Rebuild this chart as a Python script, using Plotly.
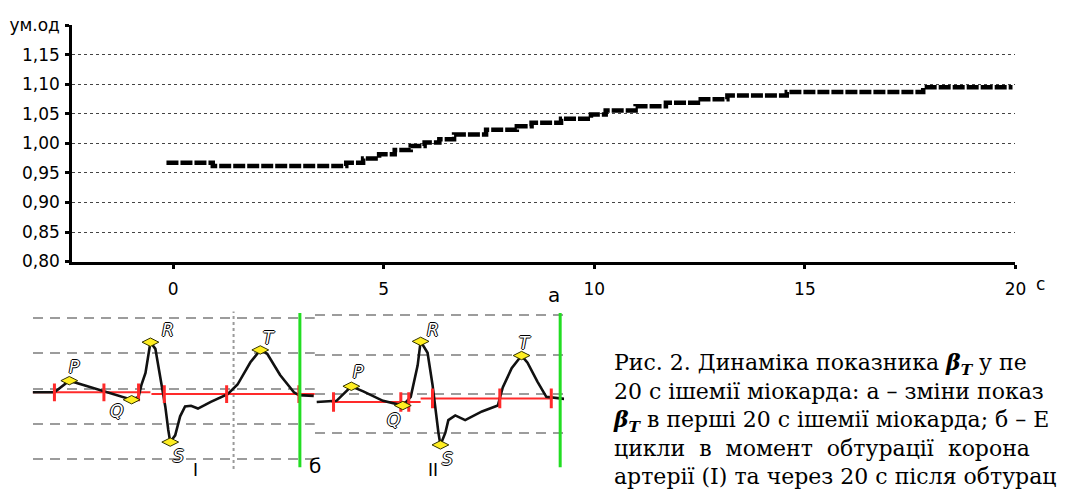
import plotly.graph_objects as go

W, H = 1069, 501

# ---------------- panel "а": dynamics of beta_T ----------------
t_sec = [-0.16, 0.94, 4.11, 4.51, 4.89, 5.26, 5.64, 5.97, 6.32, 6.67, 7.43, 8.16,
         8.51, 9.21, 9.92, 10.27, 10.98, 11.70, 12.46, 13.16, 14.57, 17.81, 19.93]
beta_t = [0.9675, 0.962, 0.9675, 0.9745, 0.9815, 0.989, 0.9955, 1.0015, 1.007, 1.015,
          1.023, 1.029, 1.035, 1.042, 1.049, 1.056, 1.063, 1.069, 1.075, 1.081,
          1.087, 1.095, 1.095]
y_tickvals = [0.80, 0.85, 0.90, 0.95, 1.00, 1.05, 1.10, 1.15, 1.20]
y_ticktext = ["0,80", "0,85", "0,90", "0,95", "1,00", "1,05", "1,10", "1,15", "ум.од"]
x_tickvals = [0, 5, 10, 15, 20]
x_ticktext = ["0", "5", "10", "15", "20"]

# ---------------- panel "б": ECG cycles ----------------
# cycle I (moment of occlusion)
ecg1_t = [0, 22, 37, 72, 80, 100, 107, 110, 114, 119, 124, 130, 134, 137, 139, 144, 149,
          154, 160, 167, 180, 197, 207, 220, 230, 237, 250, 264, 269, 284]
ecg1_v = [-0.10, -0.10, 0.23, -0.07, -0.15, -0.31, -0.23, 0.12, 0.45, 1.32, 1.13, 0.12,
          -0.50, -1.16, -1.51, -1.32, -0.78, -0.50, -0.48, -0.56, -0.37, -0.15, 0.12,
          0.75, 1.10, 0.99, 0.39, -0.10, -0.18, -0.20]
pk1_t = [37, 100, 119, 139, 230]
pk1_v = [0.23, -0.31, 1.32, -1.51, 1.10]
lbl1_t = [42, 85, 137, 147, 239]
lbl1_v = [0.61, -0.64, 1.67, -1.89, 1.43]
iso1_t = [[0, 119], [120, 287]]
iso1_v = [-0.10, -0.15]
mark1_t = [22, 72, 107, 133, 196, 269]
mark1_v = [-0.10, -0.10, -0.10, -0.15, -0.15, -0.15]
cursor1_t = 203
green1_t = 270

# cycle II (20 s after occlusion)
ecg2_t = [2, 22, 37, 49, 69, 89, 97, 100, 104, 107, 114, 119, 122, 125, 127, 132, 135,
          142, 152, 169, 185, 190, 199, 209, 215, 225, 234, 252]
ecg2_v = [-0.20, -0.17, 0.20, 0.07, -0.17, -0.29, -0.07, 0.24, 0.73, 1.34, 1.05, 0.24,
          -0.41, -0.98, -1.29, -0.98, -0.66, -0.54, -0.66, -0.44, -0.29, 0.17, 0.66,
          0.98, 0.80, 0.32, -0.07, -0.12]
pk2_t = [37, 89, 107, 127, 209]
pk2_v = [0.20, -0.29, 1.34, -1.29, 0.98]
lbl2_t = [44, 80, 119, 134, 212]
lbl2_v = [0.56, -0.66, 1.63, -1.66, 1.29]
iso2_t = [[17, 107], [107, 240]]
iso2_v = [-0.20, -0.11]
mark2_t = [19, 87, 95, 119, 187, 239]
mark2_v = [-0.20, -0.20, -0.20, -0.11, -0.11, -0.11]
green2_t = 248

wave_names = ["P", "Q", "R", "S", "T"]

beta = "<b><i>β</i></b><sub><b><i>T</i></b></sub>"
caption_lines = [
    "Рис. 2. Динаміка показника " + beta + " у пе",
    "20 с ішемії міокарда: а – зміни показ",
    beta + " в перші 20 с ішемії міокарда; б – Е",
    "цикли \u00a0в \u00a0момент \u00a0обтурації \u00a0корона",
    "артерії (І) та через 20 с після обтурац",
]


def px(x):
    return x / W


def py(y):
    return 1 - y / H


fig = go.Figure()

# panel a step line
fig.add_trace(go.Scatter(
    x=t_sec, y=beta_t, mode="lines", line_shape="hv",
    line=dict(color="black", width=4.5, dash="12px,2px"),
    xaxis="x", yaxis="y", showlegend=False, hoverinfo="skip"))


def add_ecg(t, v, pk_t, pk_v, lbl_t, lbl_v, iso_t, iso_v, mark_t, mark_v, xa, ya):
    xs, ys = [], []
    for seg, val in zip(iso_t, iso_v):
        xs += [seg[0], seg[1], None]
        ys += [val, val, None]
    fig.add_trace(go.Scatter(x=xs, y=ys, mode="lines",
                             line=dict(color="#ff2a2a", width=2),
                             xaxis=xa, yaxis=ya, showlegend=False, hoverinfo="skip"))
    fig.add_trace(go.Scatter(x=t, y=v, mode="lines",
                             line=dict(color="#111111", width=2.6),
                             xaxis=xa, yaxis=ya, showlegend=False, hoverinfo="skip"))
    xs, ys = [], []
    for mt, mv in zip(mark_t, mark_v):
        xs += [mt, mt, None]
        ys += [mv + 0.25, mv - 0.25, None]
    fig.add_trace(go.Scatter(x=xs, y=ys, mode="lines",
                             line=dict(color="#ff2a2a", width=3),
                             xaxis=xa, yaxis=ya, showlegend=False, hoverinfo="skip"))
    fig.add_trace(go.Scatter(x=pk_t, y=pk_v, mode="markers",
                             marker=dict(symbol="diamond-wide", size=12, color="#ffee22",
                                         line=dict(color="#333300", width=1)),
                             xaxis=xa, yaxis=ya, showlegend=False, hoverinfo="skip"))
    for name, lt, lv in zip(wave_names, lbl_t, lbl_v):
        fig.add_annotation(x=lt, y=lv, xref=xa, yref=ya, text="<i>" + name + "</i>",
                           showarrow=False,
                           font=dict(family="DejaVu Sans", size=17, color="white",
                                     shadow="1px 0 0 #000, -1px 0 0 #000, 0 1px 0 #000, 0 -1px 0 #000"))


add_ecg(ecg1_t, ecg1_v, pk1_t, pk1_v, lbl1_t, lbl1_v, iso1_t, iso1_v, mark1_t, mark1_v, "x2", "y2")
add_ecg(ecg2_t, ecg2_v, pk2_t, pk2_v, lbl2_t, lbl2_v, iso2_t, iso2_v, mark2_t, mark2_v, "x3", "y3")

fig.add_shape(type="line", xref="x2", yref="y2 domain", x0=cursor1_t, x1=cursor1_t,
              y0=0, y1=1, line=dict(color="#9a9a9a", width=2, dash="dot"), layer="below")
fig.add_shape(type="line", xref="x2", yref="y2 domain", x0=green1_t, x1=green1_t,
              y0=0.01, y1=0.99, line=dict(color="#22dd22", width=3))
fig.add_shape(type="line", xref="x3", yref="y3 domain", x0=green2_t, x1=green2_t,
              y0=0.01, y1=0.99, line=dict(color="#22dd22", width=3))

tick_font = dict(family="DejaVu Sans", size=17, color="black")

fig.update_layout(
    width=W, height=H, autosize=False,
    margin=dict(l=0, r=0, t=0, b=0),
    paper_bgcolor="white", plot_bgcolor="white",
    xaxis=dict(domain=[px(73), px(1026)], range=[-2.397, 20],
               tickvals=x_tickvals, ticktext=x_ticktext,
               showline=True, linecolor="black", linewidth=3,
               ticks="outside", ticklen=4, tickwidth=3, tickcolor="black",
               ticklabelstandoff=6,
               showgrid=False, zeroline=False, tickfont=tick_font, anchor="y"),
    yaxis=dict(domain=[py(262), py(16)], range=[0.80, 1.20],
               tickvals=y_tickvals, ticktext=y_ticktext,
               showline=True, linecolor="black", linewidth=3,
               ticks="outside", ticklen=4, tickwidth=3, tickcolor="black",
               ticklabelstandoff=2,
               showgrid=True, gridcolor="#444444", gridwidth=1, griddash="3px,3px",
               zeroline=False, tickfont=tick_font, anchor="x"),
    xaxis2=dict(domain=[px(33), px(320)], range=[0, 287], showgrid=False,
                zeroline=False, showticklabels=False, ticks="", anchor="y2"),
    yaxis2=dict(domain=[py(478), py(314)], range=[-2.27, 2.19],
                tickvals=[-2, -1, 0, 1, 2], showticklabels=False, ticks="",
                showgrid=True, gridcolor="#9c9c9c", gridwidth=1.5, griddash="10px,7px",
                zeroline=False, anchor="x2"),
    xaxis3=dict(domain=[px(318), px(570)], range=[0, 252], showgrid=False,
                zeroline=False, showticklabels=False, ticks="", anchor="y3"),
    yaxis3=dict(domain=[py(478), py(314)], range=[-1.90, 2.10],
                tickvals=[-1, 0, 1, 2], showticklabels=False, ticks="",
                showgrid=True, gridcolor="#9c9c9c", gridwidth=1.5, griddash="10px,7px",
                zeroline=False, anchor="x3"),
)

fig.add_annotation(x=px(1058), y=py(285), xref="paper", yref="paper", text="с",
                   showarrow=False, font=tick_font)
fig.add_annotation(x=px(560), y=py(297), xref="paper", yref="paper", text="а",
                   showarrow=False, font=dict(family="DejaVu Sans", size=20, color="black"))
fig.add_annotation(x=px(193), y=py(492), xref="paper", yref="paper", text="I",
                   showarrow=False, font=dict(family="DejaVu Sans", size=17, color="black"))
fig.add_annotation(x=px(310), y=py(490), xref="paper", yref="paper", text="б",
                   showarrow=False, font=dict(family="DejaVu Sans", size=20, color="black"))
fig.add_annotation(x=px(437), y=py(492), xref="paper", yref="paper", text="II",
                   showarrow=False, font=dict(family="DejaVu Sans", size=17, color="black"))

# caption as one multi-line text block
fig.add_annotation(x=px(617), y=py(426), xref="paper", yref="paper",
                   text="<br>".join(caption_lines),
                   showarrow=False, xanchor="left", yanchor="middle", align="left",
                   font=dict(family="DejaVu Serif", size=22, color="black"))

fig.write_html("out.html", config={"displayModeBar": False},
               post_script="document.body.style.margin='0px';"
                           "document.body.style.overflow='hidden';")
